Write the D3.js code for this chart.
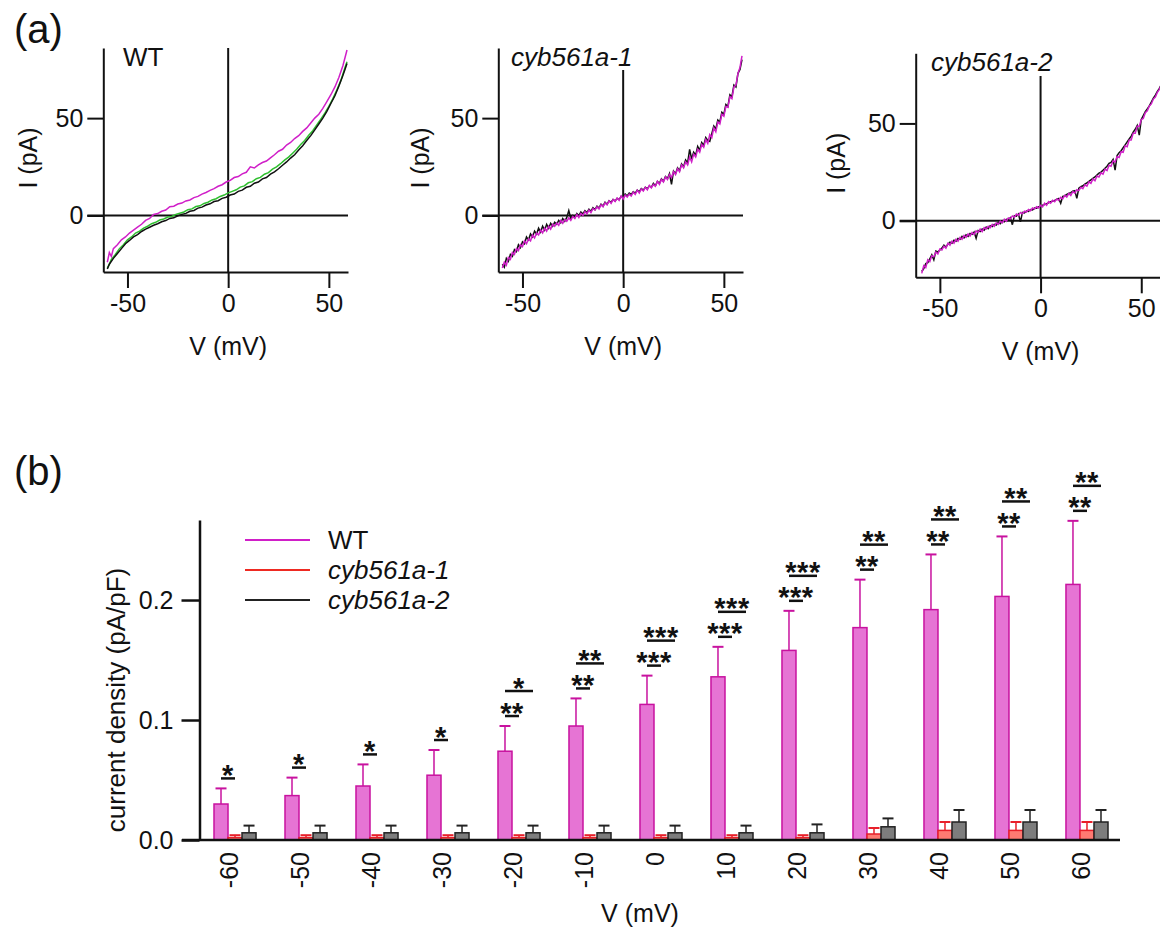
<!DOCTYPE html>
<html>
<head>
<meta charset="utf-8">
<script src="https://cdnjs.cloudflare.com/ajax/libs/d3/7.8.5/d3.min.js"></script>
<style>
  body { margin: 0; background: #fff; }
  svg text { font-family: 'Liberation Sans', Arial, sans-serif; fill: #111; }
</style>
</head>
<body>
<div id="figure"></div>
<script>
// ---------- panel (a): I-V traces, [V (mV), I (pA)] ----------
const wtMagenta = [[-60,-24],[-59,-19],[-58,-21],[-57,-17],[-55,-15],[-53,-12.5],[-51,-11],[-49,-9],[-47,-7.5],[-45,-6],[-43,-4.5],[-41,-2.5],[-39,-1.5],[-37,0.5],[-35,1],[-33,2.2],[-31,2.8],[-29,4.5],[-27,4.8],[-25,5.9],[-23,6.4],[-21,7.5],[-19,8],[-17,9.2],[-15,9.8],[-13,11],[-11,11.8],[-9,12.9],[-7,13.8],[-5,15],[-3,15.8],[-1,17.2],[1,18],[3,19.5],[5,20],[7,21.4],[9,22.2],[11,25],[13,24.4],[15,26],[17,27.2],[19,28],[21,29.6],[23,31.2],[25,33],[27,34],[29,36.2],[31,37.5],[33,39.5],[35,41],[37,43.2],[39,45],[41,47.5],[43,50],[45,52],[47,55],[49,58.5],[51,62],[53,66],[55,71],[57,77],[58,81],[59,85]];
const wtGreen = [[-60,-27],[-59,-25],[-58,-22.5],[-56,-20],[-54,-17],[-52,-15],[-50,-12.5],[-48,-11],[-46,-9],[-44,-8],[-42,-6.5],[-40,-5.5],[-38,-4.2],[-36,-3.5],[-34,-2.3],[-32,-1.8],[-30,-0.8],[-28,-0.5],[-26,0.6],[-24,1.2],[-22,1.8],[-20,3],[-18,3.4],[-16,4.6],[-14,5],[-12,6.2],[-10,6.8],[-8,8],[-6,8.6],[-4,9.8],[-2,10.5],[0,11.6],[2,12.4],[4,13.2],[6,14.6],[8,15.2],[10,16.8],[12,17.4],[14,18.9],[16,19.6],[18,21.2],[20,22],[22,23.8],[24,25],[26,26.6],[28,28.4],[30,30],[32,32],[34,34],[36,36.5],[38,38.5],[40,41.2],[42,43.5],[44,46.5],[46,49.5],[48,52.5],[50,56],[52,60],[54,64.5],[56,69.5],[58,76],[59,79]];
const wtBlack = [[-60,-27.5],[-59,-25],[-57,-22],[-55,-19.5],[-53,-17],[-51,-14.5],[-49,-12.8],[-47,-11],[-45,-9.8],[-43,-8.2],[-41,-7],[-39,-6],[-37,-5],[-35,-4.2],[-33,-3.2],[-31,-2.6],[-29,-1.5],[-27,-1.2],[-25,-0.2],[-23,0.6],[-21,1.1],[-19,2.2],[-17,2.6],[-15,3.8],[-13,4.3],[-11,5.4],[-9,6],[-7,7.2],[-5,7.6],[-3,8.8],[-1,9.4],[1,10.5],[3,11],[5,12.4],[7,13],[9,14.5],[11,15],[13,16.6],[15,17.2],[17,18.8],[19,19.5],[21,21.2],[23,22.4],[25,24],[27,25.8],[29,27.5],[31,29.5],[33,31.2],[35,33.6],[37,35.8],[39,38.5],[41,41],[43,44],[45,47],[47,50],[49,53.5],[51,57.5],[53,61.5],[55,66.5],[57,72],[58,75],[59,78]];

const kd1Magenta = [[-60,-27],[-59,-24],[-58,-25.5],[-57,-21.5],[-56,-22.5],[-55,-19],[-54,-20],[-53,-17],[-52,-18],[-51,-15],[-50,-16],[-49,-13],[-48,-14.5],[-47,-12],[-46,-13],[-45,-10],[-44,-11.5],[-43,-9],[-42,-10],[-41,-7.5],[-40,-9],[-39,-6.5],[-38,-8],[-37,-5.5],[-36,-7],[-35,-4.5],[-34,-5.5],[-33,-3.8],[-32,-5],[-31,-2.6],[-30,-4],[-29,-2],[-28,-3],[-27,-1.2],[-26,-2.5],[-25,-0.5],[-24,-1.5],[-23,0.5],[-22,-1],[-21,1],[-20,0],[-19,2],[-18,0.8],[-17,2.8],[-16,1.5],[-15,3.5],[-14,2.8],[-13,4.5],[-12,3.4],[-11,5.5],[-10,4.5],[-9,6.5],[-8,5.5],[-7,7.5],[-6,6.2],[-5,8.2],[-4,7.2],[-3,9],[-2,7.8],[-1,10],[0,8.5],[1,10.5],[2,9.5],[3,11],[4,10],[5,12],[6,10.8],[7,13],[8,11.5],[9,13.6],[10,12.6],[11,14.5],[12,13.2],[13,15.5],[14,14.2],[15,16],[16,15],[17,17.5],[18,16],[19,18.5],[20,17.2],[21,19.8],[22,18.5],[23,21],[24,19.5],[25,22.5],[26,21],[27,24],[28,22.5],[29,26],[30,24.5],[31,27.5],[32,26],[33,30],[34,27.5],[35,31.5],[36,30],[37,34],[38,32.5],[39,36.5],[40,35],[41,39],[42,37],[43,41.5],[44,40],[45,45],[46,43],[47,48],[48,47],[49,52],[50,51],[51,56],[52,55.5],[53,61],[54,60],[55,66],[56,67],[57,73],[58,76],[59,82]];
const kd1Black = [[-60,-25],[-59,-26.5],[-58,-22],[-57,-23.5],[-56,-20],[-55,-21],[-54,-17.5],[-53,-18.5],[-52,-15],[-51,-16.5],[-50,-13.5],[-49,-14.5],[-48,-11],[-47,-12.5],[-46,-9.5],[-45,-11],[-44,-8],[-43,-9.5],[-42,-6.5],[-41,-8.5],[-40,-5.5],[-39,-7.5],[-38,-4.5],[-37,-6.5],[-36,-4],[-35,-5.5],[-34,-3.5],[-33,-4.5],[-32,-2.5],[-31,-3.8],[-30,-1.5],[-29,-3],[-28,-1],[-27,2.5],[-26,-1.5],[-25,0],[-24,-1],[-23,1],[-22,0],[-21,1.8],[-20,0.8],[-19,2.5],[-18,1.5],[-17,3.2],[-16,2.2],[-15,4],[-14,3],[-13,4.8],[-12,3.8],[-11,5.8],[-10,4.8],[-9,6.8],[-8,5.8],[-7,7.5],[-6,6.8],[-5,8.2],[-4,7.5],[-3,8.8],[-2,8.2],[-1,9.8],[0,9],[1,11],[2,10],[3,11.5],[4,10.8],[5,12.2],[6,11.5],[7,13],[8,12.2],[9,13.8],[10,13],[11,14.5],[12,13.8],[13,15.2],[14,14.5],[15,16.5],[16,15.2],[17,17.5],[18,16.5],[19,18.8],[20,17.6],[21,20],[22,19],[23,21.5],[24,16],[25,22.8],[26,21.5],[27,24.5],[28,23],[29,26.5],[30,25],[31,28.5],[32,27],[33,34],[34,29],[35,32.5],[36,31],[37,35.5],[38,33.5],[39,37.5],[40,36],[41,40],[42,38.5],[43,38],[44,42],[45,46],[46,44.5],[47,49],[48,48],[49,53],[50,52],[51,57],[52,56],[53,62],[54,61],[55,67],[56,66],[57,73],[58,75],[59,80]];

const kd2Magenta = [[-59,-27],[-58,-23],[-57,-24],[-56,-20],[-55,-21],[-54,-18],[-53,-18.5],[-52,-16],[-51,-17],[-50,-14.5],[-49,-15],[-48,-13],[-47,-14],[-46,-11.5],[-45,-12.5],[-44,-10.5],[-43,-11.5],[-42,-9.5],[-41,-10.5],[-40,-8.5],[-39,-9.5],[-38,-7.5],[-37,-8.5],[-36,-6.8],[-35,-7.8],[-34,-6],[-33,-7],[-32,-5.2],[-31,-6],[-30,-4.2],[-29,-5.5],[-28,-3.5],[-27,-4.2],[-26,-2.8],[-25,-3.5],[-24,-1.8],[-23,-2.8],[-22,-1],[-21,-1.8],[-20,-0.2],[-19,-1],[-18,0.8],[-17,-0.2],[-16,1.5],[-15,1],[-14,2.5],[-13,1.8],[-12,3.5],[-11,2.8],[-10,4.3],[-9,3.6],[-8,5],[-7,4.5],[-6,5.8],[-5,5.2],[-4,6.6],[-3,6],[-2,7.2],[-1,6.6],[0,8],[1,7.2],[2,9],[3,8],[4,9.8],[5,9],[6,10.5],[7,9.8],[8,11.2],[9,10.5],[10,12],[11,11.2],[12,13],[13,12.2],[14,14],[15,13],[16,15],[17,14.2],[18,16],[19,15.5],[20,17.2],[21,16.5],[22,18.5],[23,17.8],[24,20],[25,19.2],[26,21.5],[27,20.6],[28,23],[29,22.5],[30,24.6],[31,24],[32,26.5],[33,25.8],[34,28.5],[35,28],[36,30.8],[37,30.2],[38,33],[39,32.5],[40,35.5],[41,35.2],[42,38.5],[43,38],[44,41.5],[45,41.5],[46,45],[47,45],[48,48.5],[49,48.5],[50,52],[51,52.5],[52,55.5],[53,56.5],[54,59],[55,60],[56,62.5],[57,63.5],[58,66],[59,67.5],[60,70]];
const kd2Black = [[-59,-26],[-58,-24.5],[-57,-22],[-56,-21.5],[-55,-19.5],[-54,-17.5],[-53,-20],[-52,-15.5],[-51,-16],[-50,-15],[-49,-14],[-48,-12.5],[-47,-13.5],[-46,-12],[-45,-11],[-44,-11.5],[-43,-10],[-42,-10.5],[-41,-9],[-40,-9.5],[-39,-8],[-38,-8.8],[-37,-7.2],[-36,-8],[-35,-6.5],[-34,-7],[-33,-5.8],[-32,-9],[-31,-5],[-30,-5.5],[-29,-4.2],[-28,-4.8],[-27,-3.2],[-26,-4],[-25,-2.5],[-24,-3],[-23,-1.8],[-22,-2.2],[-21,-0.8],[-20,-1.5],[-19,0],[-18,-0.5],[-17,0.8],[-16,0.5],[-15,1.6],[-14,-2],[-13,2.6],[-12,2.4],[-11,3.5],[-10,-0.5],[-9,4.3],[-8,4],[-7,5],[-6,4.8],[-5,5.8],[-4,5.6],[-3,6.5],[-2,6.4],[-1,7.2],[0,7.4],[1,8],[2,8.3],[3,8.8],[4,9.2],[5,9.8],[6,10],[7,10.5],[8,11],[9,11.5],[10,9],[11,12.5],[12,12.8],[13,13.5],[14,14],[15,14.5],[16,15.2],[17,15.5],[18,11.5],[19,16.8],[20,17.5],[21,18],[22,18.8],[23,19.5],[24,20.2],[25,21],[26,21.8],[27,22.5],[28,23.5],[29,24.5],[30,25],[31,26],[32,27],[33,28],[34,29.5],[35,30],[36,31.5],[37,26],[38,33.5],[39,35],[40,36],[41,37.5],[42,39],[43,40.5],[44,42],[45,43.5],[46,45.5],[47,47],[48,49],[49,44],[50,52],[51,54],[52,56],[53,57.5],[54,59],[55,61],[56,63],[57,64.5],[58,66.5],[59,68],[60,70]];

// ---------- panel (b): current density ----------
const voltages = ['-60', '-50', '-40', '-30', '-20', '-10', '0', '10', '20', '30', '40', '50', '60'];
const wtMean = [0.030, 0.037, 0.045, 0.054, 0.074, 0.095, 0.113, 0.136, 0.158, 0.177, 0.192, 0.203, 0.213];
const wtErr = [0.013, 0.015, 0.018, 0.021, 0.021, 0.023, 0.024, 0.025, 0.033, 0.040, 0.046, 0.050, 0.053];
const kd1Mean = [0.002, 0.002, 0.002, 0.002, 0.002, 0.002, 0.002, 0.002, 0.002, 0.005, 0.008, 0.008, 0.008];
const kd1Err = [0.002, 0.002, 0.002, 0.002, 0.002, 0.002, 0.002, 0.002, 0.002, 0.005, 0.007, 0.007, 0.007];
const kd2Mean = [0.006, 0.006, 0.006, 0.006, 0.006, 0.006, 0.006, 0.006, 0.006, 0.011, 0.015, 0.015, 0.015];
const kd2Err = [0.006, 0.006, 0.006, 0.006, 0.006, 0.006, 0.006, 0.006, 0.007, 0.007, 0.010, 0.010, 0.010];
const sigKd1 = ['*', '*', '*', '*', '**', '**', '***', '***', '***', '**', '**', '**', '**'];
const sigKd2 = ['', '', '', '', '*', '**', '***', '***', '***', '**', '**', '**', '**'];
const legendNames = ['WT', 'cyb561a-1', 'cyb561a-2'];

const fontSize = 25;
const svg = d3.select('#figure')
    .append('svg')
    .attr('width', 1160)
    .attr('height', 946);
svg.append('rect').attr('width', 1160).attr('height', 946).attr('fill', '#fff');

// panel letters
svg.append('text').attr('x', 14).attr('y', 43).attr('font-size', 40).text('(a)');
svg.append('text').attr('x', 14).attr('y', 485).attr('font-size', 40).text('(b)');

/**
 * One I-V plot with crossing zero lines.
 */
const ivPanel = (opt) => {
  const width = 244.7;
  const height = 224;
  const x = d3.scaleLinear().domain([-62, 59.5]).range([opt.left, opt.left + width]);
  const y = d3.scaleLinear().domain([-29, 86]).range([opt.top + height, opt.top]);
  const g = svg.append('g');

  // zero lines
  g.append('line')
      .attr('x1', opt.left - 16).attr('x2', opt.left + width)
      .attr('y1', y(0)).attr('y2', y(0))
      .attr('stroke', '#111').attr('stroke-width', 2);
  g.append('line')
      .attr('x1', x(0)).attr('x2', x(0))
      .attr('y1', opt.zeroTop).attr('y2', opt.top + height)
      .attr('stroke', '#111').attr('stroke-width', 2);

  opt.traces.forEach(function(t) {
    g.append('path')
        .datum(t.data)
        .attr('fill', 'none')
        .attr('stroke', t.color)
        .attr('stroke-width', 1.5)
        .attr('d', d3.line()
            .x(function(d) {
              return x(d[0]);
            })
            .y(function(d) {
              return y(d[1]);
            }));
  });

  const ax = g.append('g')
      .attr('transform', 'translate(0,' + (opt.top + height) + ')')
      .call(d3.axisBottom(x).tickValues([-50, 0, 50]).tickFormat((d) => String(d))
          .tickSize(16).tickSizeOuter(0).tickPadding(6));
  const ay = g.append('g')
      .attr('transform', 'translate(' + opt.left + ',0)')
      .call(d3.axisLeft(y).tickValues([0, 50]).tickSize(16).tickSizeOuter(0).tickPadding(4));
  [ax, ay].forEach(function(a) {
    a.selectAll('path, line').attr('stroke', '#111').attr('stroke-width', 2);
    a.selectAll('text').attr('font-size', fontSize).attr('font-family', 'Liberation Sans, Arial, sans-serif').attr('fill', '#111');
  });

  g.append('text')
      .attr('x', opt.titleX).attr('y', opt.titleY)
      .attr('font-size', 26)
      .attr('font-style', opt.italic ? 'italic' : 'normal')
      .text(opt.title);
  g.append('text')
      .attr('transform', 'translate(' + opt.yLabelX + ',' + (opt.top + 110) + ') rotate(-90)')
      .attr('text-anchor', 'middle')
      .attr('dy', '0.35em')
      .attr('font-size', fontSize)
      .text('I (pA)');
  g.append('text')
      .attr('x', x(0)).attr('y', opt.top + height + 83)
      .attr('text-anchor', 'middle')
      .attr('font-size', fontSize)
      .text('V (mV)');
};

ivPanel({left: 103.3, top: 48, zeroTop: 48, title: 'WT', titleX: 123, titleY: 66, yLabelX: 28,
  traces: [{data: wtGreen, color: '#2fbf2f'}, {data: wtBlack, color: '#111'}, {data: wtMagenta, color: '#d01fc8'}]});
ivPanel({left: 498.3, top: 48, zeroTop: 70, title: 'cyb561a-1', titleX: 511, titleY: 66, italic: true, yLabelX: 420,
  traces: [{data: kd1Black, color: '#111'}, {data: kd1Magenta, color: '#d01fc8'}]});
ivPanel({left: 915.7, top: 53.3, zeroTop: 76, title: 'cyb561a-2', titleX: 931, titleY: 71, italic: true, yLabelX: 836,
  traces: [{data: kd2Black, color: '#111'}, {data: kd2Magenta, color: '#d01fc8'}]});

// ---------- panel (b) ----------
const series = [
  {key: 'wt', mean: wtMean, err: wtErr, fill: '#e674d4', stroke: '#c8129f', line: '#d01fc8'},
  {key: 'kd1', mean: kd1Mean, err: kd1Err, fill: '#ff7a72', stroke: '#e8202a', line: '#ee2a22'},
  {key: 'kd2', mean: kd2Mean, err: kd2Err, fill: '#7d7d7d', stroke: '#222', line: '#222'},
];
const y = d3.scaleLinear().domain([0, 0.2667]).range([840, 520]);
const x0 = d3.scaleBand().domain(voltages).range([214, 1108]).paddingInner(0.408).paddingOuter(0);
const x1 = d3.scaleBand().domain(series.map((s) => s.key)).range([0, x0.bandwidth()]);
const center = (v, k) => x0(v) + x1(k) + x1.bandwidth() / 2;

const bars = svg.append('g');
series.forEach(function(s) {
  voltages.forEach(function(v, i) {
    const cx = center(v, s.key);
    const top = y(s.mean[i] + s.err[i]);
    bars.append('line')
        .attr('x1', cx).attr('x2', cx)
        .attr('y1', y(s.mean[i])).attr('y2', top)
        .attr('stroke', s.stroke).attr('stroke-width', 1.5);
    bars.append('line')
        .attr('x1', cx - 5.5).attr('x2', cx + 5.5)
        .attr('y1', top).attr('y2', top)
        .attr('stroke', s.stroke).attr('stroke-width', 2);
    bars.append('rect')
        .attr('x', x0(v) + x1(s.key))
        .attr('y', y(s.mean[i]))
        .attr('width', x1.bandwidth())
        .attr('height', y(0) - y(s.mean[i]))
        .attr('fill', s.fill)
        .attr('stroke', s.stroke)
        .attr('stroke-width', 1.5);
  });
});

// significance marks
const sig = svg.append('g');
const sigMark = (xa, xb, ly, stars) => {
  if (!stars) return;
  sig.append('line')
      .attr('x1', xa).attr('x2', xb)
      .attr('y1', ly).attr('y2', ly)
      .attr('stroke', '#111').attr('stroke-width', 2.5);
  sig.append('text')
      .attr('x', (xa + xb) / 2).attr('y', ly + 6.5)
      .attr('text-anchor', 'middle')
      .attr('font-size', 29)
      .attr('font-weight', 'bold')
      .attr('letter-spacing', 0.5)
      .text(stars);
};
voltages.forEach(function(v, i) {
  const low = y(wtMean[i] + wtErr[i]) - 10;
  sigMark(center(v, 'wt'), center(v, 'kd1'), low, sigKd1[i]);
  sigMark(center(v, 'wt'), center(v, 'kd2'), low - 25, sigKd2[i]);
});

// axes
svg.append('line')
    .attr('x1', 182).attr('x2', 1120)
    .attr('y1', y(0)).attr('y2', y(0))
    .attr('stroke', '#111').attr('stroke-width', 2.5);
const yAxis = svg.append('g')
    .attr('transform', 'translate(199.5,0)')
    .call(d3.axisLeft(y).tickValues([0, 0.1, 0.2]).tickFormat(d3.format('.1f'))
        .tickSize(18).tickSizeOuter(0).tickPadding(8));
const xAxis = svg.append('g')
    .attr('transform', 'translate(-6,' + y(0) + ')')
    .call(d3.axisBottom(x0).tickSize(0));
xAxis.select('.domain').remove();
xAxis.selectAll('text')
    .attr('transform', 'rotate(-90)')
    .attr('x', -12).attr('y', 0).attr('dy', '0.35em')
    .attr('text-anchor', 'end');
[xAxis, yAxis].forEach(function(a) {
  a.selectAll('path, line').attr('stroke', '#111').attr('stroke-width', 2.5);
  a.selectAll('text').attr('font-size', fontSize).attr('font-family', 'Liberation Sans, Arial, sans-serif').attr('fill', '#111');
});

svg.append('text')
    .attr('transform', 'translate(116,700) rotate(-90)')
    .attr('text-anchor', 'middle')
    .attr('dy', '0.35em')
    .attr('font-size', 26)
    .text('current density (pA/pF)');
svg.append('text')
    .attr('x', 640).attr('y', 922)
    .attr('text-anchor', 'middle')
    .attr('font-size', fontSize)
    .text('V (mV)');

// legend
const legend = svg.append('g');
series.forEach(function(s, i) {
  const ly = 540 + i * 30;
  legend.append('line')
      .attr('x1', 245).attr('x2', 310)
      .attr('y1', ly).attr('y2', ly)
      .attr('stroke', s.line).attr('stroke-width', 2);
  legend.append('text')
      .attr('x', 328).attr('y', ly)
      .attr('dy', '0.35em')
      .attr('font-size', 26)
      .attr('font-style', i === 0 ? 'normal' : 'italic')
      .text(legendNames[i]);
});
</script>
</body>
</html>
